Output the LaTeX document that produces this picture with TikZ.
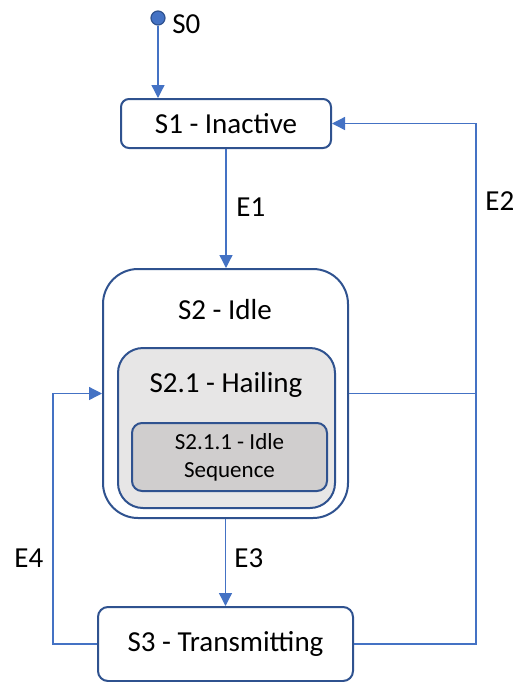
\documentclass[tikz,border=0pt]{standalone}
\usepackage{fontspec}
\setmainfont{Carlito}
\usetikzlibrary{arrows.meta}

\definecolor{lineblue}{HTML}{4472C4}
\definecolor{edgeblue}{HTML}{2F528F}
\definecolor{hailgray}{HTML}{E7E6E6}
\definecolor{seqgray}{HTML}{D0CECE}

\begin{document}
\begin{tikzpicture}[
  x=0.5pt, y=-0.5pt,
  >={Triangle[length=6.5pt,width=6.5pt]},
  font=\fontsize{14.5}{17}\selectfont,
  state/.style     = {draw=edgeblue, line width=1pt, fill=white, inner sep=0pt},
  trans/.style     = {draw=lineblue, line width=0.65pt},
  ev label/.style  = {anchor=base west, inner sep=0pt},
]

% ── Units ──────────────────────────────────────────────────────────────────
% One unit = one pixel of the original screenshot (515 x 682)
\def\px{0.5pt}

\useasboundingbox (0,0) rectangle (515,682);

% ── States ─────────────────────────────────────────────────────────────────
\node[circle, fill=lineblue, draw=edgeblue, line width=0.6pt,
      minimum size=14*\px, inner sep=0pt] (s0) at (158,18) {};
\node[ev label] (s0lbl) at (172,33) {S0};

\node[state, rounded corners=8*\px, minimum width=210*\px,
      minimum height=49*\px] (s1) at (226,123.5) {S1 - Inactive};

% S2 with its nested sub-states
\node[state, rounded corners=35*\px, minimum width=245*\px,
      minimum height=249*\px] (s2) at (225.5,393.5) {};
\node[anchor=base, inner sep=0pt] (s2lbl) at (225,319) {S2 - Idle};

\node[state, fill=hailgray, rounded corners=25*\px, minimum width=217*\px,
      minimum height=160*\px] (s21) at (226.5,428) {};
\node[anchor=base, inner sep=0pt] (s21lbl) at (226,392) {S2.1 - Hailing};

\node[state, fill=seqgray, rounded corners=10*\px, minimum width=195*\px,
      minimum height=68*\px, align=center,
      font=\fontsize{11.5}{14}\selectfont] (s211) at (229.5,457)
  {S2.1.1 - Idle\\Sequence};

\node[state, rounded corners=10*\px, minimum width=255*\px,
      minimum height=74*\px] (s3) at (225.5,644) {S3 - Transmitting};

% ── Transitions ────────────────────────────────────────────────────────────
\coordinate (e2) at (476,123.5);   % right return line
\coordinate (e4) at (53,393.5);    % left return line

\draw[trans, ->] (s0) -- (s0 |- s1.north);
\draw[trans, ->] (s1.south) -- (s1.south |- s2.north);
\draw[trans] (s2.east) -- (s2.east -| e2);
\draw[trans, ->] (s3.east) -| (e2) -- (s1.east);
\draw[trans, ->] (s2.south) -- (s3.north);
\draw[trans, ->] (s3.west) -| (e4) -- (s2.west);

% ── Event labels ───────────────────────────────────────────────────────────
\node[ev label] (lblE1) at (236,216) {E1};
\node[ev label] (lblE2) at (485,210) {E2};
\node[ev label] (lblE3) at (234,567) {E3};
\node[ev label] (lblE4) at (14,567) {E4};

\end{tikzpicture}
\end{document}
